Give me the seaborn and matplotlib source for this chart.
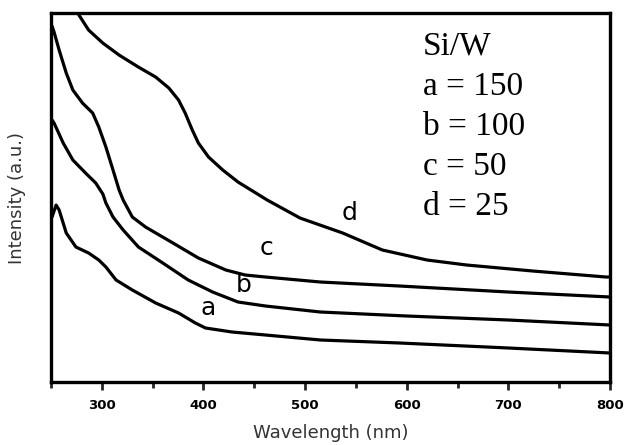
import seaborn as sns
import matplotlib.pyplot as plt
from matplotlib.ticker import MultipleLocator
import pandas as pd

# Values (intensity in arbitrary units)
wl_a = [251, 255, 258, 265, 274.5, 287, 297, 304, 314, 330, 353, 375.5, 392, 402, 428, 461, 515, 593, 700, 800]
int_a = [165, 177, 172, 149, 135, 129, 122, 115, 102, 92, 79, 69, 59, 54, 50, 47, 42, 39, 34, 29]

wl_b = [251, 253, 262, 271.5, 284, 294, 301, 304, 311, 321, 336, 360, 385, 409, 434, 461, 515, 600, 700, 800]
int_b = [262, 259, 239, 222, 209, 199, 188, 179, 165, 152, 135, 119, 102, 90, 80, 76, 70, 66, 62, 57]

wl_c = [251, 253, 258, 265, 271.5, 281, 291, 297, 304, 311, 317, 321, 330, 343, 370, 395, 422, 441, 461, 515, 593, 700, 800]
int_c = [356, 350, 332, 309, 292, 279, 269, 255, 235, 212, 192, 182, 165, 155, 139, 124, 112, 107, 105, 100, 96, 90, 85]

wl_d = [275, 277.5, 287, 301, 317, 336, 353, 366, 375.5, 382, 389, 395, 405, 419, 434, 462.7, 495, 537, 576, 620, 659, 724, 796, 800]
int_d = [375, 367, 352, 339, 327, 315, 305, 294, 282, 269, 252, 239, 225, 212, 200, 182, 164, 149, 132, 122, 117, 111, 105, 105]

curve_names = ['a', 'b', 'c', 'd']
label_pos = {'a': (405, 62), 'b': (440, 85), 'c': (462, 122), 'd': (544, 157)}
legend_lines = ['Si/W', 'a = 150', 'b = 100', 'c = 50', 'd = 25']

frames = []
for name, wl, val in zip(curve_names, [wl_a, wl_b, wl_c, wl_d], [int_a, int_b, int_c, int_d]):
    frames.append(pd.DataFrame({'Wavelength': wl, 'Intensity': val, 'Sample': name}))
data = pd.concat(frames, ignore_index=True)

sns.set_style("ticks")
plt.rcParams['font.family'] = ['DejaVu Sans']

fig = plt.figure(figsize=(6.26, 4.45), dpi=100)
ax = fig.add_axes([0.0815, 0.1416, 0.893, 0.829])

sns.lineplot(data=data, x='Wavelength', y='Intensity', hue='Sample',
             palette=['black'] * 4, linewidth=2.3, legend=False, ax=ax,
             estimator=None, sort=False, solid_joinstyle='round',
             solid_capstyle='round')

ax.set_xlim(250, 800)
ax.set_ylim(0, 369)
ax.set_yticks([])
ax.xaxis.set_major_locator(MultipleLocator(100))
ax.xaxis.set_minor_locator(MultipleLocator(50))
ax.set_xticks([300, 400, 500, 600, 700, 800])
ax.tick_params(axis='x', which='major', direction='out', length=6, width=2, pad=6,
               labelcolor='black')
ax.tick_params(axis='x', which='minor', direction='out', length=4, width=2)
for lbl in ax.get_xticklabels():
    lbl.set_fontweight('bold')
    lbl.set_fontsize(9.5)

for side in ax.spines.values():
    side.set_linewidth(2.4)
    side.set_color('black')

ax.set_xlabel('Wavelength (nm)', fontsize=13, color='#333333', labelpad=9)
ax.set_ylabel('Intensity (a.u.)', fontsize=13, color='#333333', labelpad=18)

for name in curve_names:
    x, y = label_pos[name]
    ax.text(x, y, name, fontsize=18, ha='center', va='bottom', color='black')

for i, line in enumerate(legend_lines):
    ax.text(0.665, 0.91 - i * 0.109, line, transform=ax.transAxes,
            family='Liberation Serif', fontsize=24, va='center', ha='left',
            color='black')

plt.savefig('out.png', dpi=100)
